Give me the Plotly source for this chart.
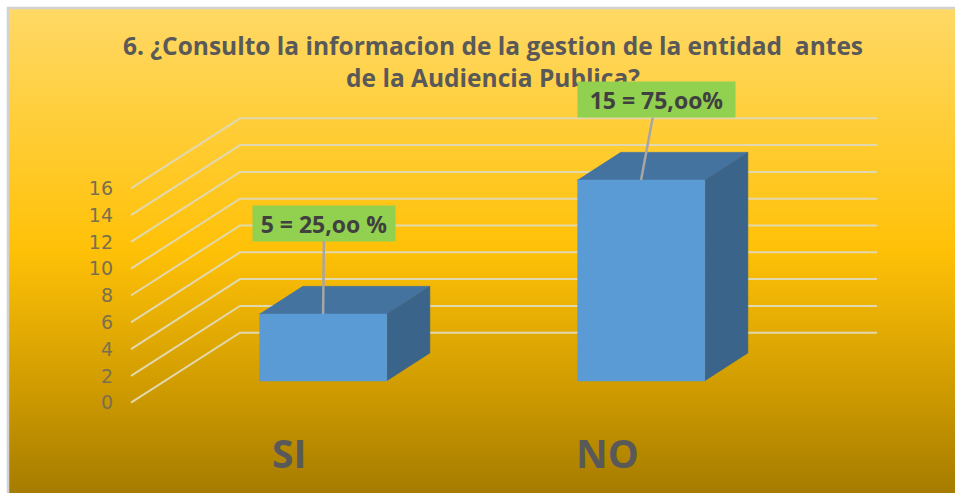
import plotly.graph_objects as go

# --- data ---
categories = ["SI", "NO"]
values = [5, 15]
data_labels = ["5 = 25,oo %", "15 = 75,oo%"]
y_ticks = [0, 2, 4, 6, 8, 10, 12, 14, 16]
title_text = "6. ¿Consulto la informacion de la gestion de la entidad  antes<br>de la Audiencia Publica?"

# --- oblique projection set-up (axes are pixel-proportional) ---
W, H = 955, 493
PX_PER_UNIT = 13.4
Y0_PX = 402.7
DEPTH_X, DEPTH_PX = 109, 70
FLOOR_L, BACK_R = 131, 877
CAT_X0, CAT_STEP = 289.3, 318
BAR_W = 127.5
D_FRONT, D_BACK = 0.31, 0.705

y_top = Y0_PX / PX_PER_UNIT
y_bot = (Y0_PX - H) / PX_PER_UNIT


def proj(x, v, d):
    return x + d * DEPTH_X, v + d * DEPTH_PX / PX_PER_UNIT


def poly(pts, color):
    return go.Scatter(x=[p[0] for p in pts], y=[p[1] for p in pts], mode="lines",
                      fill="toself", fillcolor=color, line=dict(width=0.5, color=color),
                      hoverinfo="skip", showlegend=False)


fig = go.Figure()

# background gradient, with the grey edge only on the top and left
fy0, fy1 = (Y0_PX - 8) / PX_PER_UNIT, y_bot
fig.add_trace(go.Scatter(
    x=[8, W, W, 8, 8], y=[fy0, fy0, fy1, fy1, fy0], mode="lines", fill="toself",
    line=dict(width=0), hoverinfo="skip", showlegend=False,
    fillgradient=dict(type="vertical", start=fy0, stop=fy1,
                      colorscale=[[0, "#FFD966"], [0.5, "#FFC107"], [0.8, "#CC9900"], [1, "#A67C00"]])))
fig.add_trace(go.Scatter(x=[8, 8, W], y=[fy1, fy0, fy0], mode="lines",
                         line=dict(color="#D2D2D2", width=2.5), hoverinfo="skip", showlegend=False))

# gridlines
gx, gy = [], []
for t in y_ticks:
    for p in (proj(FLOOR_L, t, 0), proj(FLOOR_L, t, 1), (BACK_R, proj(0, t, 1)[1])):
        gx.append(p[0]); gy.append(p[1])
    gx.append(None); gy.append(None)
fig.add_trace(go.Scatter(x=gx, y=gy, mode="lines", line=dict(color="#E2D8AE", width=2),
                         hoverinfo="skip", showlegend=False))

# title first, so that the label box lies over its last line as in the reference
annos = [dict(x=493 / W, y=1 - 61 / H, xref="paper", yref="paper", xanchor="center", yanchor="middle",
              text=f"<b>{title_text}</b>", showarrow=False, align="center",
              font=dict(family="Open Sans", size=24.5, color="#595959"))]

# 3-D bars
offsets = [(1, -91), (15, -80.5)]
boxes = [(142, 35), (157, 35)]
tick_x = []
for i, (cat, v, lab) in enumerate(zip(categories, values, data_labels)):
    c = CAT_X0 + CAT_STEP * i
    tick_x.append(c)
    l, r = c - BAR_W / 2, c + BAR_W / 2
    fig.add_trace(poly([proj(l, v, D_FRONT), proj(r, v, D_FRONT), proj(r, v, D_BACK), proj(l, v, D_BACK)], "#44739F"))
    fig.add_trace(poly([proj(r, 0, D_FRONT), proj(r, v, D_FRONT), proj(r, v, D_BACK), proj(r, 0, D_BACK)], "#3A6489"))
    fig.add_trace(poly([proj(l, 0, D_FRONT), proj(r, 0, D_FRONT), proj(r, v, D_FRONT), proj(l, v, D_FRONT)], "#5B9BD5"))
    ax_, ay_ = proj(c, v, D_FRONT)
    annos.append(dict(x=ax_, y=ay_, xref="x", yref="y", text=f"<b>{lab}</b>", showarrow=True,
                      arrowhead=0, arrowwidth=2.5, arrowcolor="#A6A6A6", standoff=0,
                      ax=offsets[i][0], ay=offsets[i][1], bgcolor="#92D050",
                      width=boxes[i][0], height=boxes[i][1], borderpad=0,
                      font=dict(family="Open Sans", size=23, color="#404040")))

fig.update_layout(
    width=W, height=H, autosize=False, margin=dict(l=0, r=0, t=0, b=0),
    paper_bgcolor="white", plot_bgcolor="rgba(0,0,0,0)", showlegend=False,
    xaxis=dict(range=[0, W], showgrid=False, zeroline=False, showline=False, ticks="",
               tickmode="array", tickvals=tick_x, ticktext=[f"<b>{c}</b>" for c in categories],
               tickfont=dict(family="Open Sans", size=39, color="#595959"),
               anchor="free", position=1 - 428 / H),
    yaxis=dict(range=[y_bot, y_top], showgrid=False, zeroline=False, showline=False, ticks="",
               tickmode="array", tickvals=y_ticks, tickfont=dict(family="DejaVu Sans", size=19, color="#7A7050"),
               anchor="free", position=113 / W),
    annotations=annos,
)

fig.write_html("out.html", config={"displayModeBar": False},
               post_script="document.body.style.margin='0';")
